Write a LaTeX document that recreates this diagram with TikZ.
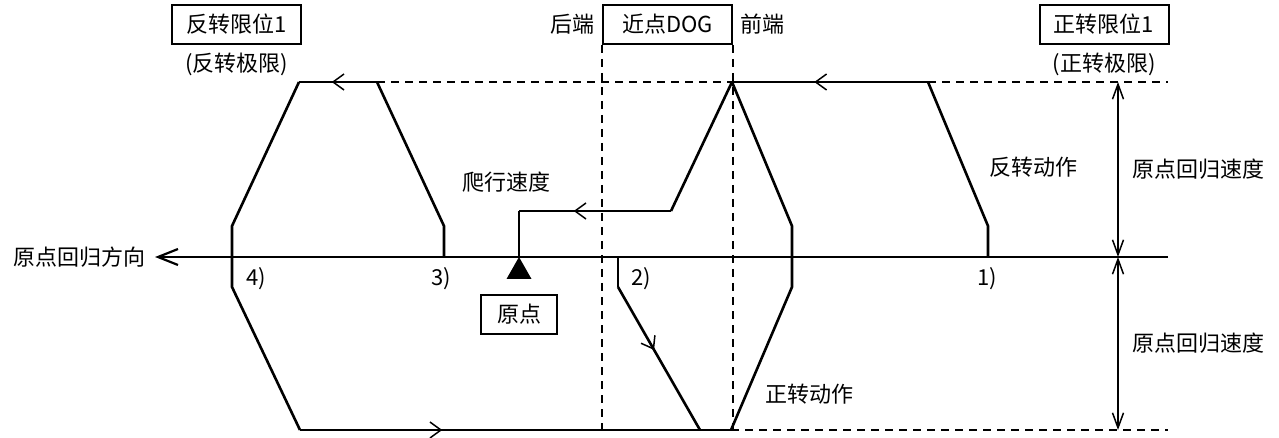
\documentclass[tikz,border=0pt]{standalone}
\usepackage{fontspec}
\setmainfont{Noto Sans CJK SC}
\usepackage{tikz}
\usetikzlibrary{positioning,arrows.meta,decorations.markings}
\tikzset{limit/.style={
        draw,
        line width=2pt,
        minimum width=129pt,
        minimum height=39pt},
    trace/.style={line width=2.6pt},
    guide/.style={line width=1.7pt, dash pattern=on 8pt off 6pt},
    dimline/.style={line width=1.5pt,
        {Straight Barb[length=15pt,width=11pt]}-{Straight Barb[length=15pt,width=11pt]}},
    midarrow/.style={postaction={decorate},
        decoration={markings,
        mark=at position #1 with {\arrow{Straight Barb[length=11pt,width=16pt,line width=1.5pt]}}}} }

\begin{document}
\begin{tikzpicture}[x=1pt,y=-1pt,every node/.style={font=\fontsize{22}{26}\selectfont}]
\useasboundingbox (0,0) rectangle (1279,438);

\coordinate (ax0) at (155,257);
\coordinate (ax1) at (1168,257);
\coordinate (t0) at (1168,82);
\coordinate (b0) at (1168,430);

\coordinate (s1) at (988,257);
\coordinate (s1a) at (988,226);
\coordinate (s1b) at (928,82);
\coordinate (pk) at (732,82);
\coordinate (cr1) at (671,211);
\coordinate (cr2) at (519,211);
\coordinate (org) at (519,257);

\coordinate (s2) at (618,257);
\coordinate (s2a) at (618,287);
\coordinate (s2b) at (700,430);
\coordinate (f0) at (731,430);
\coordinate (f1) at (792,287);
\coordinate (f2) at (792,226);

\coordinate (s3) at (444,257);
\coordinate (s3a) at (444,226);
\coordinate (s3b) at (377,82);
\coordinate (s3c) at (299,82);
\coordinate (s4a) at (232,226);
\coordinate (s4b) at (232,287);
\coordinate (s4c) at (300,430);

\coordinate (d0) at (1118,82);
\coordinate (d1) at (1118,257);
\coordinate (d2) at (1118,430);

% limit switches and dog
\node[limit] (revlim) at (236.5,24.5) {反转限位1};
\node[below=4pt of revlim] (revnote) {(反转极限)};
\node[limit] (fwdlim) at (1104,24.5) {正转限位1};
\node[below=4pt of fwdlim] (fwdnote) {(正转极限)};
\node[limit] (dog) at (667.5,24.5) {近点DOG};
\node[left=4pt of dog] (rear) {后端};
\node[right=4pt of dog] (front) {前端};

% dashed guides
\draw[guide] (dog.south west) -- (dog.south west |- b0);
\draw[guide] (dog.south east) -- (dog.south east |- b0);
\draw[guide] (s3b) -- (pk);
\draw[guide] (s1b) -- (t0);
\draw[guide] (f0) -- (b0);

% axis
\draw[line width=2.6pt, -{Straight Barb[length=20pt,width=16pt,line width=2.2pt]}] (ax1) -- (ax0);
\node[left=6pt of ax0] (dir) {原点回归方向};

% travel
\draw[trace] (s1) -- (s1a) -- (s1b);
\draw[trace, midarrow=0.58] (s1b) -- (pk);
\draw[trace] (pk) -- (cr1);
\draw[trace, midarrow=0.64] (cr1) -- (cr2);
\draw[trace] (cr2) -- (org);
\draw[trace] (s2) -- (s2a);
\draw[trace, midarrow=0.44] (s2a) -- (s2b);
\draw[trace] (s3) -- (s3a) -- (s3b);
\draw[trace, midarrow=0.58] (s3b) -- (s3c);
\draw[trace] (s3c) -- (s4a) -- (s4b) -- (s4c);
\draw[trace, midarrow=0.33] (s4c) -- (f0);
\draw[trace] (f0) -- (f1) -- (f2) -- (pk);

% origin
\fill (org) -- ++(-12.5,22) -- ++(25,0) -- cycle;
\node[limit, minimum width=76pt, below=37pt of org] (home) {原点};

% speeds
\draw[dimline] (d0) -- node[right=10pt] (spd1) {原点回归速度} (d1);
\draw[dimline] (d1) -- node[right=10pt] (spd2) {原点回归速度} (d2);

\node (revact) at (1033,167) {反转动作};
\node (fwdact) at (809,394) {正转动作};
\node (creep) at (506,182) {爬行速度};

\node (n1) at (987,279) {1)};
\node (n2) at (641,279) {2)};
\node (n3) at (441,279) {3)};
\node (n4) at (256,279) {4)};

\end{tikzpicture}
\end{document}
